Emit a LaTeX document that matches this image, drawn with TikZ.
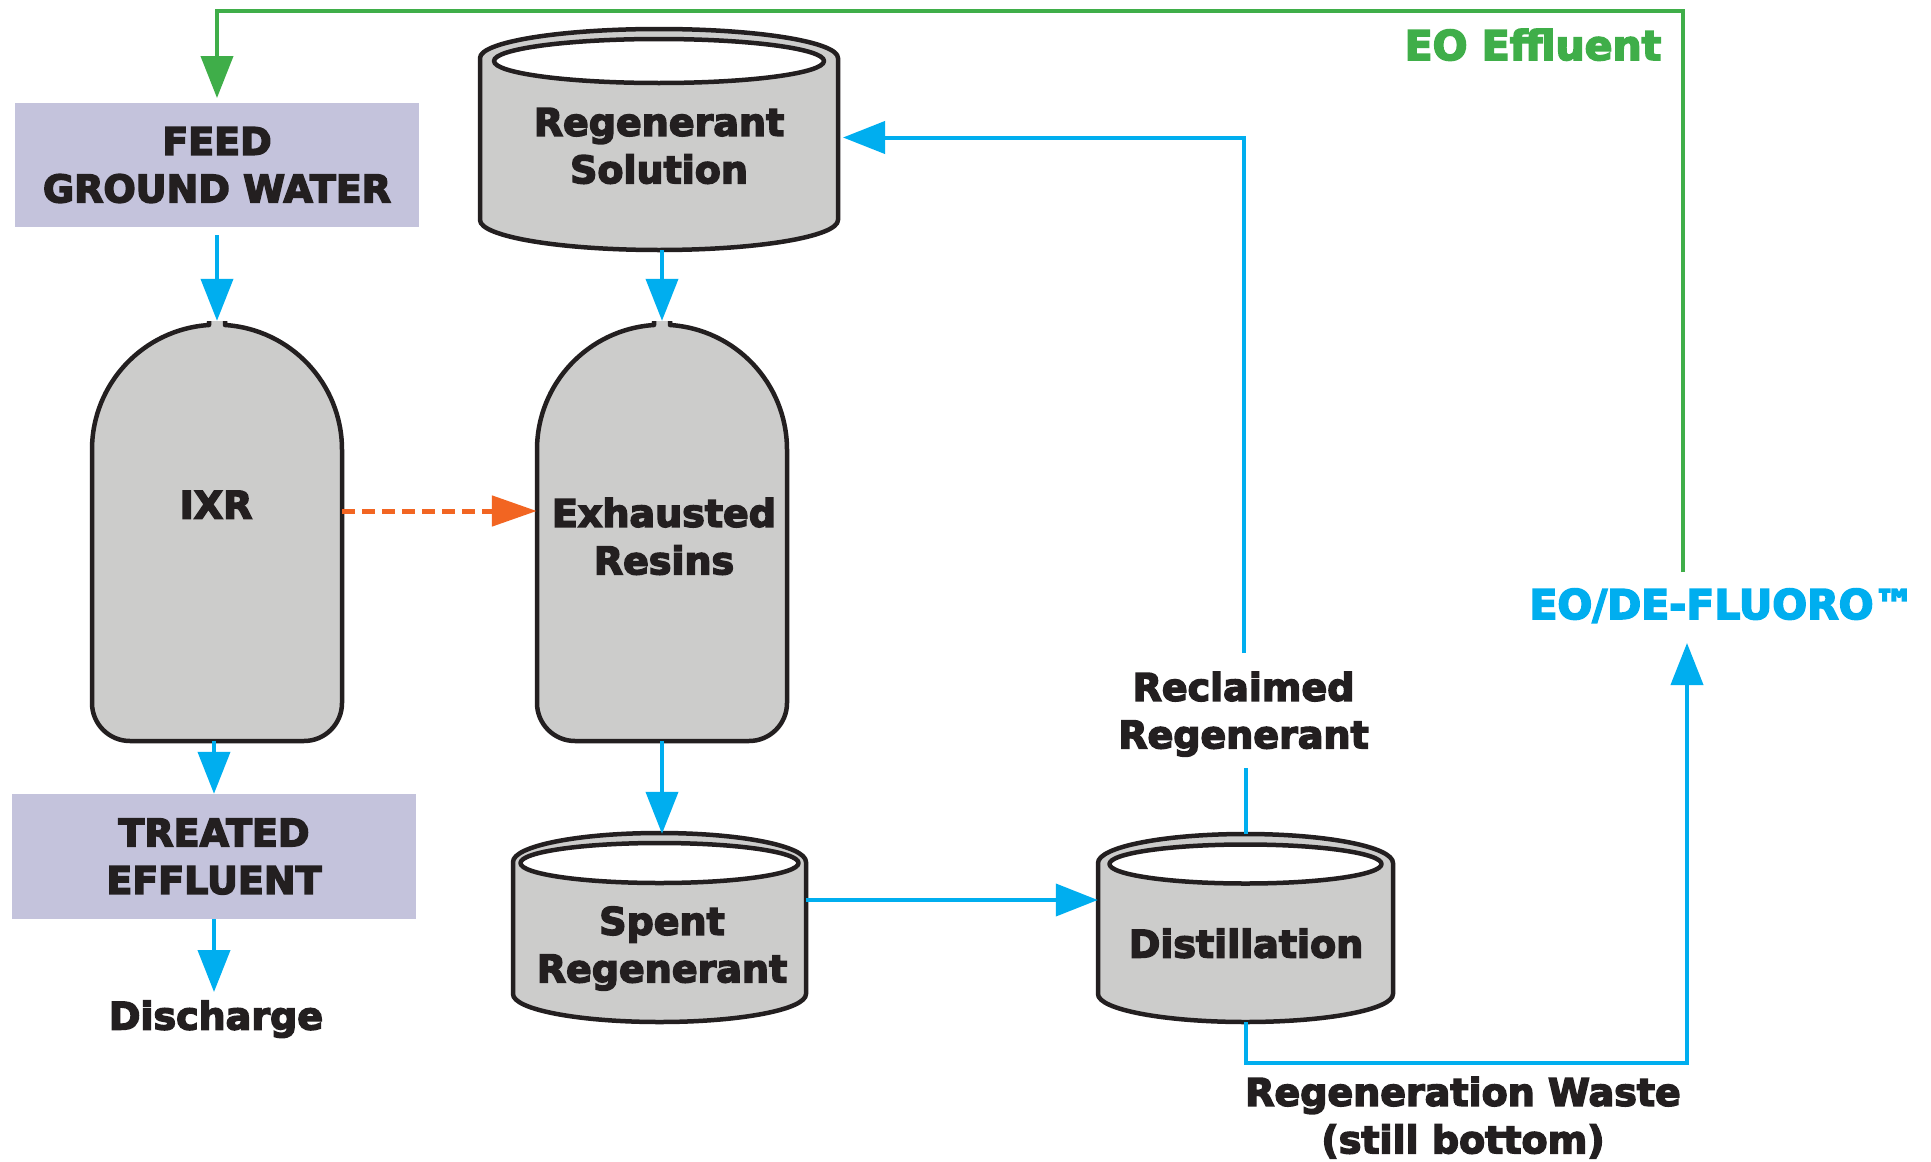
\documentclass[tikz,border=0pt]{standalone}
\usepackage{fontspec}
\setmainfont{DejaVu Sans}
\newfontfamily\heavy{DejaVu Sans Bold}[FakeBold=4]
\usetikzlibrary{arrows.meta}
\definecolor{cblue}{HTML}{00AEEF}
\definecolor{cgreen}{HTML}{3FAE49}
\definecolor{corange}{HTML}{F26522}
\definecolor{cgray}{HTML}{CCCCCB}
\definecolor{clav}{HTML}{C4C3DC}
\definecolor{cink}{HTML}{231F20}
% vessel outline: #1 cx, #2 neck top, #3 bottom, #4 radius
\newcommand\vesselpath[4]{(#1+8,#2) -- (#1+8,#2+4) arc[start angle=-86.33,end angle=0,radius=#4] -- (#1+#4,#3-38) arc[start angle=0,end angle=90,radius=38] -- (#1-#4+38,#3) arc[start angle=90,end angle=180,radius=38] -- (#1-#4,#2+4+124.74) arc[start angle=180,end angle=266.33,radius=#4] -- (#1-8,#2)}
% tank: #1 cx, #2 rx, #3 top cy, #4 top ry, #5 bottom cy, #6 bottom ry, #7 inner rx, #8 inner ry, #9 inner cy
\newcommand\tankshape[9]{%
  \filldraw[fill=cgray, shell] (#1-#2,#3) -- (#1-#2,#5) arc[start angle=180,end angle=0,x radius=#2,y radius=#6] -- (#1+#2,#3) arc[start angle=0,end angle=-180,x radius=#2,y radius=#4] -- cycle;
  \filldraw[fill=white, shell] (#1,#9) ellipse[x radius=#7, y radius=#8];
}
\begin{document}
\begin{tikzpicture}[x=1pt,y=-1pt,
  txt/.style={inner sep=0pt, align=center, text=cink, font=\fontsize{38}{47.5}\selectfont\heavy},
  clab/.style={inner sep=0pt, font=\fontsize{41}{50}\selectfont\heavy},
  boxnode/.style={txt, fill=clav, minimum width=404, minimum height=124},
  ghost/.style={inner sep=0pt, draw=none},
  flow/.style={draw=cblue, line width=4pt, -{Triangle[length=42pt,width=32pt]}},
  flowplain/.style={draw=cblue, line width=4pt},
  gflow/.style={draw=cgreen, line width=4pt, -{Triangle[length=42pt,width=32pt]}},
  dflow/.style={draw=corange, line width=5pt, dash pattern=on 13pt off 7pt, -{Triangle[length=45pt,width=30pt]}},
  shell/.style={draw=cink, line width=4.5pt, line join=round},
]
\useasboundingbox (0,0) rectangle (1931,1162);
\fill[white] (0,0) rectangle (1931,1162);

% boxes
\node[boxnode] (feed) at (217,165) {FEED\\GROUND WATER};
\node[boxnode, minimum height=125] (treated) at (214,856.5) {TREATED\\EFFLUENT};

% vessels
\node[ghost, minimum width=250, minimum height=420] (ixr) at (217,531) {};
\node[ghost, minimum width=250, minimum height=420] (exh) at (662,531) {};
\fill[cgray] \vesselpath{217}{321}{741}{125} -- cycle;
\draw[shell] \vesselpath{217}{321}{741}{125};
\fill[cgray] \vesselpath{662}{321}{741}{125} -- cycle;
\draw[shell] \vesselpath{662}{321}{741}{125};

% tanks
\node[ghost, minimum width=358, minimum height=221] (regsol) at (659,139.5) {};
\node[ghost, minimum width=293, minimum height=188] (spent) at (659.5,928) {};
\node[ghost, minimum width=295, minimum height=188] (dist) at (1245.5,928) {};
\tankshape{659}{179}{58}{29}{220}{30}{165}{22}{61}
\tankshape{659.5}{146.5}{862}{29}{994}{28}{139}{20}{863}
\tankshape{1245.5}{147.5}{863}{29}{994}{28}{136}{19.5}{864}

% labels
\node[txt] (ixrlab) at (216,509) {\strut IXR};
\node[txt] (exhlab) at (664,541) {\strut Exhausted\\Resins\strut};
\node[txt] (rsl) at (659,150) {\strut Regenerant\\Solution\strut};
\node[txt] (spl) at (662,949) {\strut Spent\\Regenerant\strut};
\node[txt] (dil) at (1246,948) {\strut Distillation};
\node[txt] (recl) at (1243.5,715) {\strut Reclaimed\\Regenerant\strut};
\node[txt] (waste) at (1463,1120) {\strut Regeneration Waste\\(still bottom)\strut};
\node[txt] (discharge) at (216,1020) {\strut Discharge};
\node[clab, text=cgreen] (eoeff) at (1533,50) {\strut EO Effluent};
\node[clab, text=cblue] (defl) at (1722,609) {\strut EO/DE-FLUORO™};

% free ends
\coordinate (dtip) at (214,992);
\coordinate (gstart) at (1683,572);
\coordinate (gtop) at (1683,11);
\coordinate (gtip) at (217,98);
\coordinate (rtop) at (1243.5,653);
\coordinate (rbot) at (1245.5,768);
\coordinate (rstip) at (843,137.5);
\coordinate (wc) at (1687,1063);
\coordinate (ftip) at (1687,643);

% connectors
\draw[flow] ([yshift=-8pt]feed.south) -- (ixr.north);
\draw[flow] (treated.north |- ixr.south) -- (treated.north);
\draw[flow] (treated.south) -- (dtip);
\draw[dflow] ([yshift=20pt]ixr.east) -- ([yshift=20pt]exh.west);
\draw[flow] (exh.north |- regsol.south) -- (exh.north);
\draw[flow] (exh.south) -- (exh.south |- spent.north);
\draw[flow] ([yshift=28pt]spent.east) -- ([yshift=28pt]dist.west);
\draw[flowplain] (dist.north) -- (rbot);
\draw[flow] (rtop) |- (rstip);
\draw[flow] (dist.south) |- (wc) -- (ftip);
\draw[gflow] (gstart) -- (gtop) -| (gtip);
\end{tikzpicture}
\end{document}
